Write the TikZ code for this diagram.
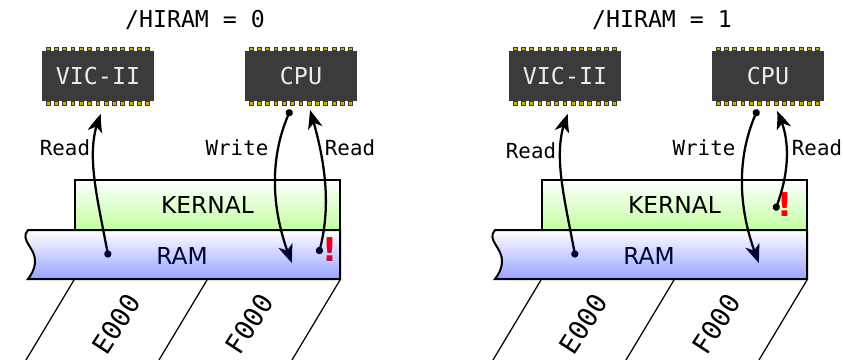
\documentclass[tikz,border=0pt]{standalone}
\usepackage{fontspec}
\setmainfont{DejaVu Sans}
\setmonofont{DejaVu Sans Mono}
\usepackage{xcolor}
\usepackage{tikz}
\usetikzlibrary{arrows.meta, bending, fadings}

\definecolor{chipbody}{HTML}{3B3B3B}
\definecolor{chippinfill}{HTML}{C8B400}
\definecolor{kernalgreen}{HTML}{C0FFA0}
\definecolor{ramblue}{rgb}{0,0.1,1}

\tikzfading[name=ramfade, top color=transparent!100, bottom color=transparent!60]

\tikzset{
    chipbox/.style={fill=chipbody, minimum width=84pt, minimum height=37.5pt, inner sep=0pt,
        text=white!92!black, font=\ttfamily\fontsize{17.5pt}{20pt}\selectfont},
    chippin/.style={fill=chippinfill, draw=chipbody, line width=0.45pt},
    titletext/.style={font=\ttfamily\fontsize{17.4pt}{20pt}\selectfont},
    accesstext/.style={font=\ttfamily\fontsize{15.6pt}{18pt}\selectfont},
    addrtext/.style={font=\ttfamily\fontsize{20pt}{22pt}\selectfont, rotate=57},
    memtext/.style={font=\fontsize{17.5pt}{20pt}\selectfont},
    memline/.style={draw=black, line width=1.5pt},
    addrline/.style={draw=black, line width=0.95pt},
    busarrow/.style={line width=1.7pt, {Circle[length=5.4pt]}-{Stealth[length=14pt,width=11pt,inset=4pt,bend]}},
    warning/.style={text=red, font=\bfseries\fontsize{24.6pt}{26pt}\selectfont, inner sep=0pt},
}

\newcommand{\chipnode}[3]{
    \node[chipbox] (#1) at (#2, 76) {#3};
    \foreach \i in {0,...,12} {
        \draw[chippin] ({#2-56+4+8.3*\i}, 47) rectangle ++(3.8, 3.8);
        \draw[chippin] ({#2-56+4+8.3*\i}, 101.2) rectangle ++(3.8, 3.8);
    }
}

\newcommand{\rambar}{(340, 230) -- (28, 230) .. controls (19, 240) and (36, 248) .. (35, 262)
    .. controls (34.5, 270) and (31, 275) .. (28, 279) -- (340, 279) -- cycle}

\newcommand{\hirampanel}[4]{
    \begin{scope}[xshift=#2*0.75pt]
        \node[titletext] (title#1) at (195, 20) {/HIRAM = #3};
        \chipnode{vic#1}{98}{VIC-II}
        \chipnode{cpu#1}{301}{CPU}

        % memory bars
        \fill[white] \rambar;
        \node[memtext, minimum width=198.75pt, minimum height=37.5pt, inner sep=0pt,
            top color=white, bottom color=kernalgreen] (kernal#1) at (207.5, 205) {KERNAL};
        \node[memtext] (ram#1) at (182, 256) {RAM};

        % address lines
        \coordinate (addra#1) at (74, 280);
        \coordinate (addrb#1) at (207, 280);
        \coordinate (addrc#1) at (340, 280);
        \coordinate (addrd#1) at (26, 360);
        \coordinate (addre#1) at (159, 360);
        \coordinate (addrf#1) at (292, 360);
        \draw[addrline] (addra#1) -- (addrd#1);
        \draw[addrline] (addrb#1) -- (addre#1);
        \draw[addrline] (addrc#1) -- (addrf#1);
        \node[addrtext] (eaddr#1) at (116, 324) {E000};
        \node[addrtext] (faddr#1) at (249, 324) {F000};

        % access arrows
        \coordinate (vicdot#1) at (108.5, 257.5);
        \coordinate (vicin#1) at (101, 114);
        \coordinate (cpudot#1) at (290.7, 109.5);
        \coordinate (ramin#1) at (292, 263);
        \draw[busarrow] (vicdot#1) .. controls (97, 195) and (84, 150) .. (vicin#1);
        \draw[busarrow] (cpudot#1) .. controls (267, 160) and (272, 215) .. (ramin#1);
        \node[accesstext] (write#1) at (237, 148) {Write};
        #4

        % tint over the ram bar
        \path[fill=ramblue, path fading=ramfade] \rambar;
        \draw[memline] \rambar;
        \draw[memline] (kernal#1.south west) -- (kernal#1.north west) -- (kernal#1.north east) -- (kernal#1.south east);
    \end{scope}
}

\begin{document}
\begin{tikzpicture}[x=0.75pt, y=-0.75pt]
    \useasboundingbox (0, 0) rectangle (843, 360);

    \hirampanel{l}{0}{0}{
        \node[accesstext] (vicread l) at (65, 148) {Read};
        \node[accesstext] (cpuread l) at (350, 148) {Read};
        \node[warning] (bang l) at (330, 250) {!};
        \coordinate (readdot l) at (318.5, 254);
        \coordinate (readin l) at (310, 110);
        \draw[busarrow] (readdot l) .. controls (333, 205) and (324, 155) .. (readin l);
    }

    \hirampanel{r}{467}{1}{
        \node[accesstext] (vicread r) at (64, 151) {Read};
        \node[accesstext] (cpuread r) at (350, 148) {Read};
        \node[warning] (bang r) at (318, 205) {!};
        \coordinate (readdot r) at (308, 210.5);
        \coordinate (readin r) at (310, 111);
        \draw[busarrow] (readdot r) .. controls (322, 175) and (325, 140) .. (readin r);
    }
\end{tikzpicture}
\end{document}
